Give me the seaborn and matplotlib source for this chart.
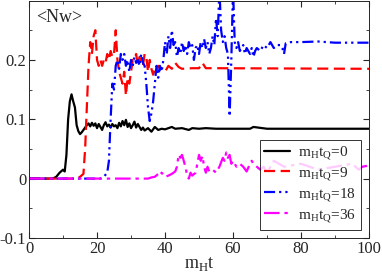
import matplotlib
matplotlib.use('Agg')
import matplotlib.pyplot as plt
import seaborn as sns
from matplotlib.ticker import MultipleLocator, FixedLocator

# curves (x in m_H t, y in <Nw>)
x_tq0 = [0, 7, 8, 9, 10, 10.5, 11, 11.5, 12, 12.5, 13, 13.5, 14, 14.5, 15, 15.5, 16, 17, 17.5,
         18, 18.5, 19, 19.5, 20, 20.5, 21, 21.5, 22, 22.5, 23, 23.5, 24, 24.5, 25, 25.5, 26,
         26.5, 27, 27.5, 28, 28.5, 29, 29.5, 30, 30.5, 31, 31.5, 32, 32.5, 33, 33.5, 34, 35,
         36, 37, 38, 39, 40, 41, 42, 43, 45, 47, 48, 50, 52, 55, 60, 65, 66, 70, 100]
y_tq0 = [0, 0, 0.003, 0.01, 0.015, 0.012, 0.04, 0.1, 0.13, 0.142, 0.13, 0.12, 0.09, 0.08,
         0.075, 0.078, 0.082, 0.09, 0.093, 0.088, 0.094, 0.089, 0.093, 0.085, 0.092, 0.087,
         0.082, 0.09, 0.095, 0.088, 0.091, 0.086, 0.092, 0.088, 0.09, 0.085, 0.094, 0.088,
         0.097, 0.09, 0.099, 0.087, 0.093, 0.085, 0.09, 0.096, 0.086, 0.092, 0.087, 0.082,
         0.086, 0.081, 0.085, 0.079, 0.087, 0.082, 0.084, 0.083, 0.085, 0.087, 0.084, 0.085,
         0.082, 0.085, 0.084, 0.085, 0.084, 0.084, 0.084, 0.087, 0.084, 0.084]

x_tq9 = [0, 14, 15, 16, 16.5, 17, 17.5, 18, 18.5, 19, 19.5, 20, 20.5, 21, 21.5, 22, 22.5, 23,
         23.5, 24, 24.5, 25, 25.5, 26, 26.5, 27, 27.5, 28, 28.5, 29, 29.5, 30, 30.5, 31, 31.5,
         32, 32.5, 33, 33.5, 34, 34.5, 35, 35.5, 36, 36.5, 37, 37.5, 38, 39, 40, 41, 42, 43,
         44, 45, 48, 50, 51, 52, 55, 100]
y_tq9 = [0, 0, 0.003, 0.008, 0.05, 0.12, 0.19, 0.23, 0.21, 0.24, 0.25, 0.2, 0.19, 0.2, 0.19,
         0.2, 0.195, 0.21, 0.2, 0.215, 0.205, 0.21, 0.25, 0.2, 0.18, 0.17, 0.16, 0.18, 0.14,
         0.17, 0.16, 0.18, 0.2, 0.2, 0.21, 0.19, 0.205, 0.195, 0.19, 0.21, 0.205, 0.18, 0.2,
         0.185, 0.175, 0.185, 0.18, 0.19, 0.185, 0.18, 0.19, 0.185, 0.195, 0.188, 0.185,
         0.186, 0.186, 0.195, 0.186, 0.186, 0.185]

x_tq18 = [0, 21, 22, 23, 23.5, 24, 24.5, 25, 25.5, 26, 26.5, 27, 27.5, 28, 28.5, 29, 29.5, 30,
          30.5, 31, 31.5, 32, 32.5, 33, 33.5, 34, 34.5, 35, 35.5, 36, 36.5, 37, 37.5, 38, 38.5,
          39, 39.5, 40, 40.5, 41, 41.5, 42, 42.5, 43, 43.5, 44, 44.5, 45, 45.5, 46, 46.5, 47,
          47.5, 48, 48.5, 49, 49.5, 50, 50.5, 51, 51.5, 52, 52.5, 53, 53.5, 54, 54.5, 55, 55.5,
          56, 56.5, 57, 57.5, 58, 58.5, 59, 59.5, 60, 60.5, 61, 61.5, 62, 63, 63.5, 64, 65,
          65.5, 66, 66.5, 67, 68, 69, 70, 71, 72, 73, 74, 74.5, 75, 75.5, 77, 80, 85, 90, 100]
y_tq18 = [0, 0, 0.003, 0.01, 0.03, 0.1, 0.16, 0.15, 0.19, 0.2, 0.185, 0.21, 0.2, 0.21, 0.19,
          0.2, 0.18, 0.2, 0.19, 0.205, 0.195, 0.2, 0.19, 0.21, 0.195, 0.19, 0.16, 0.12, 0.097,
          0.11, 0.13, 0.16, 0.19, 0.17, 0.19, 0.18, 0.2, 0.23, 0.21, 0.24, 0.22, 0.25, 0.225,
          0.23, 0.205, 0.22, 0.21, 0.23, 0.215, 0.225, 0.21, 0.23, 0.22, 0.225, 0.2, 0.22,
          0.225, 0.21, 0.23, 0.22, 0.235, 0.22, 0.23, 0.21, 0.22, 0.24, 0.225, 0.27, 0.24,
          0.32, 0.25, 0.23, 0.24, 0.22, 0.21, 0.105, 0.2, 0.32, 0.23, 0.22, 0.23, 0.215, 0.225,
          0.21, 0.22, 0.21, 0.22, 0.205, 0.215, 0.22, 0.215, 0.225, 0.22, 0.23, 0.22, 0.225,
          0.225, 0.22, 0.21, 0.228, 0.23, 0.23, 0.231, 0.229, 0.229]

x_tq36 = [0, 35, 36, 37, 38, 38.5, 39, 40, 41, 42, 43, 43.5, 44, 44.5, 45, 45.5, 46, 46.5, 47,
          47.5, 48, 49, 49.5, 50, 50.5, 51, 51.5, 52, 52.5, 53, 54, 55, 56, 57, 57.5, 58, 58.5,
          59, 59.5, 60, 61, 62, 63, 64, 65, 65.5, 66, 67, 68, 69, 70, 71, 72, 75, 80, 85, 90,
          95, 97, 98, 100]
y_tq36 = [0, 0, 0.002, 0.003, 0.008, 0.005, 0.01, 0.003, 0.005, 0.008, 0.012, 0.02, 0.04,
          0.035, 0.04, 0.03, 0.02, 0.005, 0.0, 0.01, 0.005, 0.01, 0.025, 0.04, 0.03, 0.038,
          0.02, 0.01, 0.02, 0.012, 0.015, 0.01, 0.02, 0.035, 0.03, 0.044, 0.035, 0.04, 0.025,
          0.03, 0.02, 0.025, 0.02, 0.012, 0.025, 0.03, 0.025, 0.02, 0.015, 0.02, 0.01, 0.02,
          0.03, 0.02, 0.025, 0.015, 0.02, 0.025, 0.015, 0.02, 0.022]

labels = [r'm$_\mathrm{H}$t$_\mathrm{Q}$=0', r'm$_\mathrm{H}$t$_\mathrm{Q}$=9',
          r'm$_\mathrm{H}$t$_\mathrm{Q}$=18', r'm$_\mathrm{H}$t$_\mathrm{Q}$=36']

sns.set_style('ticks')
plt.rcParams['font.family'] = ['Liberation Serif', 'DejaVu Serif']
plt.rcParams['mathtext.fontset'] = 'custom'
plt.rcParams['mathtext.rm'] = 'Liberation Serif'

fig = plt.figure(figsize=(3.82, 2.77), dpi=100)
ax = fig.add_axes([0.076, 0.141, 0.890, 0.857])

series = [(x_tq0, y_tq0, 'black', '-'),
          (x_tq9, y_tq9, 'red', (0, (5, 2.5))),
          (x_tq18, y_tq18, 'blue', (0, (5, 1.8, 1.0, 1.8, 1.0, 1.8))),
          (x_tq36, y_tq36, 'magenta', (0, (7, 2.2, 1.5, 2.2)))]
for (xs, ys, c, ls), lab in zip(series, labels):
    sns.lineplot(x=xs, y=ys, ax=ax, color=c, linestyle=ls, linewidth=1.6,
                 label=lab, sort=False)

ax.set_xlim(0, 100)
ax.set_ylim(-0.1, 0.3)
ax.xaxis.set_major_locator(MultipleLocator(20))
ax.xaxis.set_minor_locator(MultipleLocator(10))
ax.yaxis.set_major_locator(FixedLocator([-0.1, 0, 0.1, 0.2]))
ax.yaxis.set_minor_locator(MultipleLocator(0.05))
ax.set_yticklabels(['-0.1', '0', '0.1', '0.2'])
ax.tick_params(which='both', direction='in', top=True, right=True, labelsize=12, pad=2)
ax.tick_params(which='major', length=4)
ax.tick_params(which='minor', length=2)
for s in ax.spines.values():
    s.set_linewidth(0.7)

ax.set_xlabel(r'm$_\mathrm{H}$t', fontsize=13, labelpad=-1)
ax.set_ylabel('')
ax.text(0.02, 0.965, '<Nw>', transform=ax.transAxes, fontsize=13, va='top', ha='left')

leg = ax.legend(loc='lower right', fontsize=11, frameon=True, fancybox=False,
                handlelength=1.7, borderaxespad=0.55, labelspacing=0.22,
                borderpad=0.3, handletextpad=0.5)
leg.get_frame().set_edgecolor('black')
leg.get_frame().set_linewidth(0.7)

fig.savefig('out.png', dpi=100)
